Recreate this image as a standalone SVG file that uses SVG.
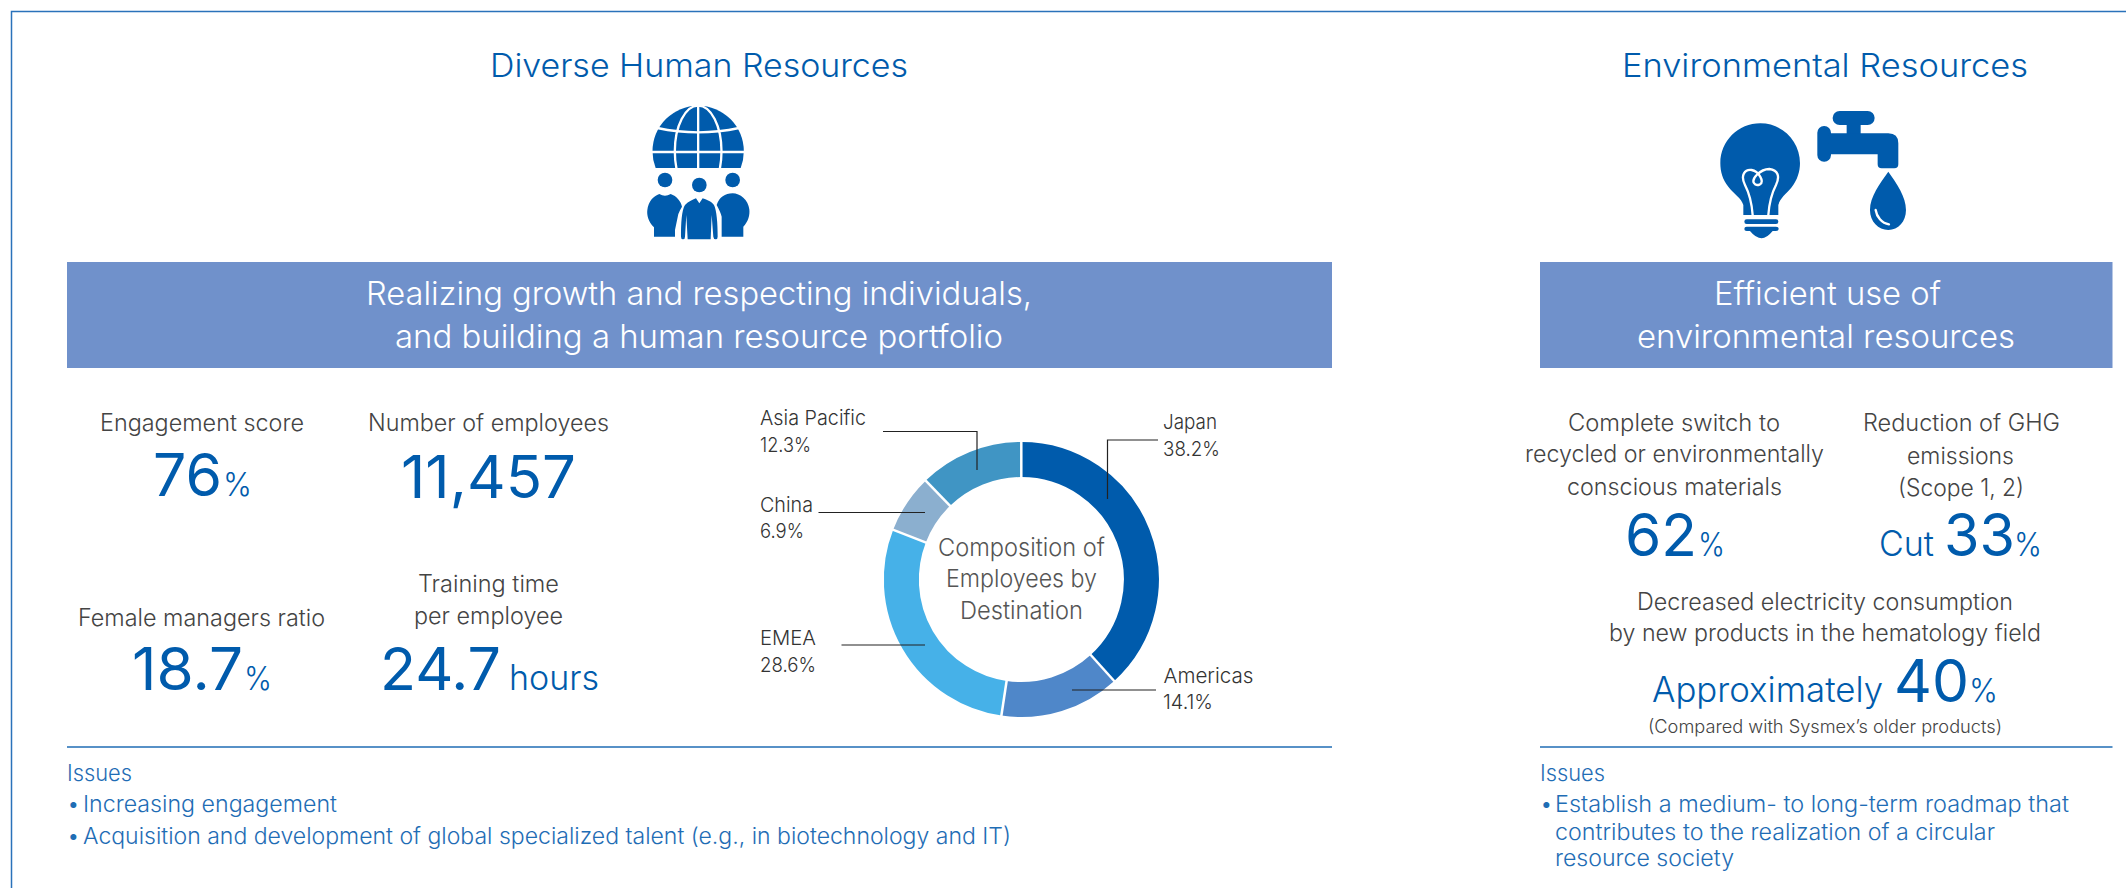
<svg xmlns="http://www.w3.org/2000/svg" width="2126" height="888" viewBox="0 0 2126 888">
<style>
text{font-family:Inter,"Noto Sans","Liberation Sans",sans-serif;font-weight:300}
.t{font-size:32px;fill:#005BAC}
.b{font-size:33px;fill:#fff}
.l{font-size:23.500px;fill:#444}
.n{font-size:59px;fill:#005BAC;font-weight:400}
.p{font-size:32px;fill:#005BAC}
.u{font-size:35px;fill:#005BAC}
.i{font-size:22.500px;fill:#1F6DB5}
.d{font-size:20.500px;fill:#333}
.c{font-size:24.500px;fill:#555}
.s{font-size:18px;fill:#444}
.lead{fill:none;stroke:#222;stroke-width:1.2}
.rule{stroke:#1F6DB5;stroke-width:1.5}
.ring{fill:none;stroke-width:35}
.w{fill:none;stroke:#fff}
</style>
<g id="frame"><path d="M11.500 888V11.500H2126" fill="none" stroke="#2A72BA" stroke-width="1.500"/></g>

<g id="human-resources-header">
<text class="t" x="490" y="77" textLength="418" lengthAdjust="spacingAndGlyphs">Diverse Human Resources</text>
<g id="globe-people-icon" transform="translate(620 90) scale(.3333)">
<clipPath id="gc"><rect x="90" y="40" width="290" height="194"/></clipPath>
<g clip-path="url(#gc)">
<circle cx="234.500" cy="184" r="137" fill="#005BAC"/>
<g class="w" stroke-width="7">
<ellipse cx="234.500" cy="184" rx="70" ry="137"/>
<path d="M234.500 40V240M90 186H380M112 114Q235 140 357 114"/>
</g></g>
<circle cx="135" cy="270" r="22" fill="#005BAC"/><circle cx="238" cy="285" r="22" fill="#005BAC"/><circle cx="338" cy="270" r="22" fill="#005BAC"/>
<g fill="#005BAC">
<path d="M102 440V412C85 395 80 375 82 360C85 335 100 318 118 312Q135 322 152 312C170 318 183 335 186 350C180 360 178 365 175 372L165 420V440Z"/>
<path d="M183 440C183 400 185 360 195 345C205 335 220 328 228 325L238 340L248 325C258 328 275 335 282 345C290 360 293 400 293 440Q293 448 287 448Q281 448 280 440L275 375L272 448H203L199 375L195 440Q195 448 189 448Q183 448 183 440Z"/>
<path d="M305 440V380C303 370 298 360 290 345C298 322 315 310 338 310C360 310 385 330 388 358C390 375 385 395 370 410V440Z"/>
</g></g>
<rect x="67" y="262" width="1265" height="106" fill="#7091CB"/>
<text class="b" x="366" y="305" textLength="666" lengthAdjust="spacingAndGlyphs">Realizing growth and respecting individuals,</text>
<text class="b" x="395" y="348" textLength="608" lengthAdjust="spacingAndGlyphs">and building a human resource portfolio</text>
</g>

<g id="human-resources-stats">
<text class="l" x="100" y="431" textLength="204" lengthAdjust="spacingAndGlyphs">Engagement score</text>
<text><tspan class="n" x="153" y="496" textLength="69" lengthAdjust="spacingAndGlyphs">76</tspan><tspan class="p" x="223" y="496" textLength="29" lengthAdjust="spacingAndGlyphs">%</tspan></text>
<text class="l" x="368" y="431" textLength="241" lengthAdjust="spacingAndGlyphs">Number of employees</text>
<text class="n" x="401" y="498" textLength="175" lengthAdjust="spacingAndGlyphs">11,457</text>
<text class="l" x="78" y="626" textLength="247" lengthAdjust="spacingAndGlyphs">Female managers ratio</text>
<text><tspan class="n" x="132" y="690" textLength="111" lengthAdjust="spacingAndGlyphs">18.7</tspan><tspan class="p" x="244" y="690" textLength="28" lengthAdjust="spacingAndGlyphs">%</tspan></text>
<text class="l" x="418" y="592" textLength="141" lengthAdjust="spacingAndGlyphs">Training time</text>
<text class="l" x="414" y="624" textLength="149" lengthAdjust="spacingAndGlyphs">per employee</text>
<text><tspan class="n" x="380" y="690" textLength="121" lengthAdjust="spacingAndGlyphs">24.7</tspan><tspan class="u" x="509" y="690" textLength="90" lengthAdjust="spacingAndGlyphs">hours</tspan></text>
</g>

<g id="composition-donut">
<g class="ring">
<path stroke="#005BAC" d="M1021.300 459.500A120 120 0 0 1 1102.400 668"/>
<path stroke="#4F87C9" d="M1102.400 668A120 120 0 0 1 1004 698.300"/>
<path stroke="#46B1E8" d="M1004 698.300A120 120 0 0 1 909.500 536.100"/>
<path stroke="#8BAFCF" d="M909.500 536.100A120 120 0 0 1 937.900 493.200"/>
<path stroke="#4095C4" d="M937.900 493.200A120 120 0 0 1 1021.300 459.500"/>
</g>
<g stroke="#fff" stroke-width="2.500">
<path d="M1021.300 441V480"/>
<path d="M1116 683L1089 653"/>
<path d="M1001 718L1007 678.500"/>
<path d="M890.800 528.800L928 543.300"/>
<path d="M924 478.800L951.800 507.600"/>
</g>
<text class="c" x="938" y="556" textLength="167" lengthAdjust="spacingAndGlyphs">Composition of</text>
<text class="c" x="946" y="587" textLength="151" lengthAdjust="spacingAndGlyphs">Employees by</text>
<text class="c" x="960" y="619" textLength="123" lengthAdjust="spacingAndGlyphs">Destination</text>
<text class="d" x="760" y="425" textLength="106" lengthAdjust="spacingAndGlyphs">Asia Pacific</text>
<text class="d" x="760" y="452" textLength="51" lengthAdjust="spacingAndGlyphs">12.3%</text>
<text class="d" x="760" y="512" textLength="53" lengthAdjust="spacingAndGlyphs">China</text>
<text class="d" x="760" y="538" textLength="44" lengthAdjust="spacingAndGlyphs">6.9%</text>
<text class="d" x="760" y="645" textLength="56" lengthAdjust="spacingAndGlyphs">EMEA</text>
<text class="d" x="760" y="672" textLength="56" lengthAdjust="spacingAndGlyphs">28.6%</text>
<text class="d" x="1163" y="429" textLength="54" lengthAdjust="spacingAndGlyphs">Japan</text>
<text class="d" x="1163" y="456" textLength="57" lengthAdjust="spacingAndGlyphs">38.2%</text>
<text class="d" x="1163.500" y="683" textLength="90" lengthAdjust="spacingAndGlyphs">Americas</text>
<text class="d" x="1163" y="709" textLength="50" lengthAdjust="spacingAndGlyphs">14.1%</text>
</g>

<g id="connectors">
<path class="lead" d="M883 431.500H977V470"/>
<path class="lead" d="M818.500 512.500H925"/>
<path class="lead" d="M841.500 645H925"/>
<path class="lead" d="M1158 440H1107.500V499"/>
<path class="lead" d="M1156 690H1072"/>
</g>

<g id="human-resources-issues">
<line class="rule" x1="67" y1="747" x2="1332" y2="747"/>
<text class="i" x="67" y="781" textLength="65" lengthAdjust="spacingAndGlyphs">Issues</text>
<text class="i" x="67" y="812">• <tspan x="83" textLength="254" lengthAdjust="spacingAndGlyphs">Increasing engagement</tspan></text>
<text class="i" x="67" y="844">• <tspan x="83" textLength="928" lengthAdjust="spacingAndGlyphs">Acquisition and development of global specialized talent (e.g., in biotechnology and IT)</tspan></text>
</g>

<g id="environment-header">
<text class="t" x="1622" y="77" textLength="406" lengthAdjust="spacingAndGlyphs">Environmental Resources</text>
<g id="bulb-faucet-icon" transform="translate(1700 95) scale(.3333)">
<g fill="#005BAC">
<path d="M130 360V330C125 310 100 295 85 275C68 255 61 230 61 205C61 138 115 85 181 85C247 85 300 138 300 205C300 230 292 255 275 277C258 297 240 310 235 330V360Z"/>
<rect x="133" y="373" width="102" height="14" rx="7"/>
<path d="M140 395H228Q236 395 236 402Q236 408 228 408H218Q200 430 185 430Q168 430 150 408H140Q133 408 133 402Q133 395 140 395Z"/>
<rect x="398" y="48" width="126" height="42" rx="21"/>
<rect x="440" y="85" width="42" height="35"/>
<rect x="352" y="93" width="41" height="107" rx="20"/>
<path d="M385 115H565Q595 115 595 145V208Q595 220 583 220H545Q533 220 533 208V178H385Z"/>
<path d="M565 230C590 265 618 305 618 345C618 380 595 405 565 405C535 405 510 380 510 345C510 305 540 265 565 230Z"/>
</g>
<path class="w" stroke-width="7" d="M158 360C155 320 148 295 135 270C120 240 135 222 155 225C175 228 195 260 180 268C165 275 150 260 170 240C185 225 195 222 208 222C235 225 240 245 228 270C215 295 208 320 205 360"/>
<path class="w" stroke-width="7" stroke-linecap="round" d="M527 345C530 365 545 385 567 388"/>
</g>
<rect x="1540" y="262" width="572.500" height="106" fill="#7091CB"/>
<text class="b" x="1714" y="305" textLength="227" lengthAdjust="spacingAndGlyphs">Efficient use of</text>
<text class="b" x="1637" y="348" textLength="378" lengthAdjust="spacingAndGlyphs">environmental resources</text>
</g>

<g id="environment-stats">
<text class="l" x="1568" y="431" textLength="212" lengthAdjust="spacingAndGlyphs">Complete switch to</text>
<text class="l" x="1525" y="462" textLength="299" lengthAdjust="spacingAndGlyphs">recycled or environmentally</text>
<text class="l" x="1567" y="495" textLength="215" lengthAdjust="spacingAndGlyphs">conscious materials</text>
<text><tspan class="n" x="1625" y="556" textLength="72" lengthAdjust="spacingAndGlyphs">62</tspan><tspan class="p" x="1698" y="556" textLength="27" lengthAdjust="spacingAndGlyphs">%</tspan></text>
<text class="l" x="1863" y="431" textLength="197" lengthAdjust="spacingAndGlyphs">Reduction of GHG</text>
<text class="l" x="1907" y="464" textLength="107" lengthAdjust="spacingAndGlyphs">emissions</text>
<text class="l" x="1898" y="496" textLength="126" lengthAdjust="spacingAndGlyphs">(Scope 1, 2)</text>
<text><tspan class="u" x="1879" y="556" textLength="55" lengthAdjust="spacingAndGlyphs">Cut</tspan> <tspan class="n" x="1944" y="556" textLength="71" lengthAdjust="spacingAndGlyphs">33</tspan><tspan class="p" x="2014" y="556" textLength="28" lengthAdjust="spacingAndGlyphs">%</tspan></text>
<text class="l" x="1637" y="610" textLength="376" lengthAdjust="spacingAndGlyphs">Decreased electricity consumption</text>
<text class="l" x="1609" y="641" textLength="432" lengthAdjust="spacingAndGlyphs">by new products in the hematology field</text>
<text><tspan class="u" x="1652" y="702" textLength="231" lengthAdjust="spacingAndGlyphs">Approximately</tspan> <tspan class="n" x="1894" y="702" textLength="75" lengthAdjust="spacingAndGlyphs">40</tspan><tspan class="p" x="1969" y="702" textLength="29" lengthAdjust="spacingAndGlyphs">%</tspan></text>
<text class="s" x="1648" y="733" textLength="354" lengthAdjust="spacingAndGlyphs">(Compared with Sysmex’s older products)</text>
</g>

<g id="environment-issues">
<line class="rule" x1="1540" y1="747" x2="2112.500" y2="747"/>
<text class="i" x="1540" y="781" textLength="65" lengthAdjust="spacingAndGlyphs">Issues</text>
<text class="i" x="1540" y="812">• <tspan x="1555" textLength="514" lengthAdjust="spacingAndGlyphs">Establish a medium- to long-term roadmap that</tspan></text>
<text class="i" x="1555" y="840" textLength="440" lengthAdjust="spacingAndGlyphs">contributes to the realization of a circular</text>
<text class="i" x="1555" y="866" textLength="179" lengthAdjust="spacingAndGlyphs">resource society</text>
</g>
</svg>
